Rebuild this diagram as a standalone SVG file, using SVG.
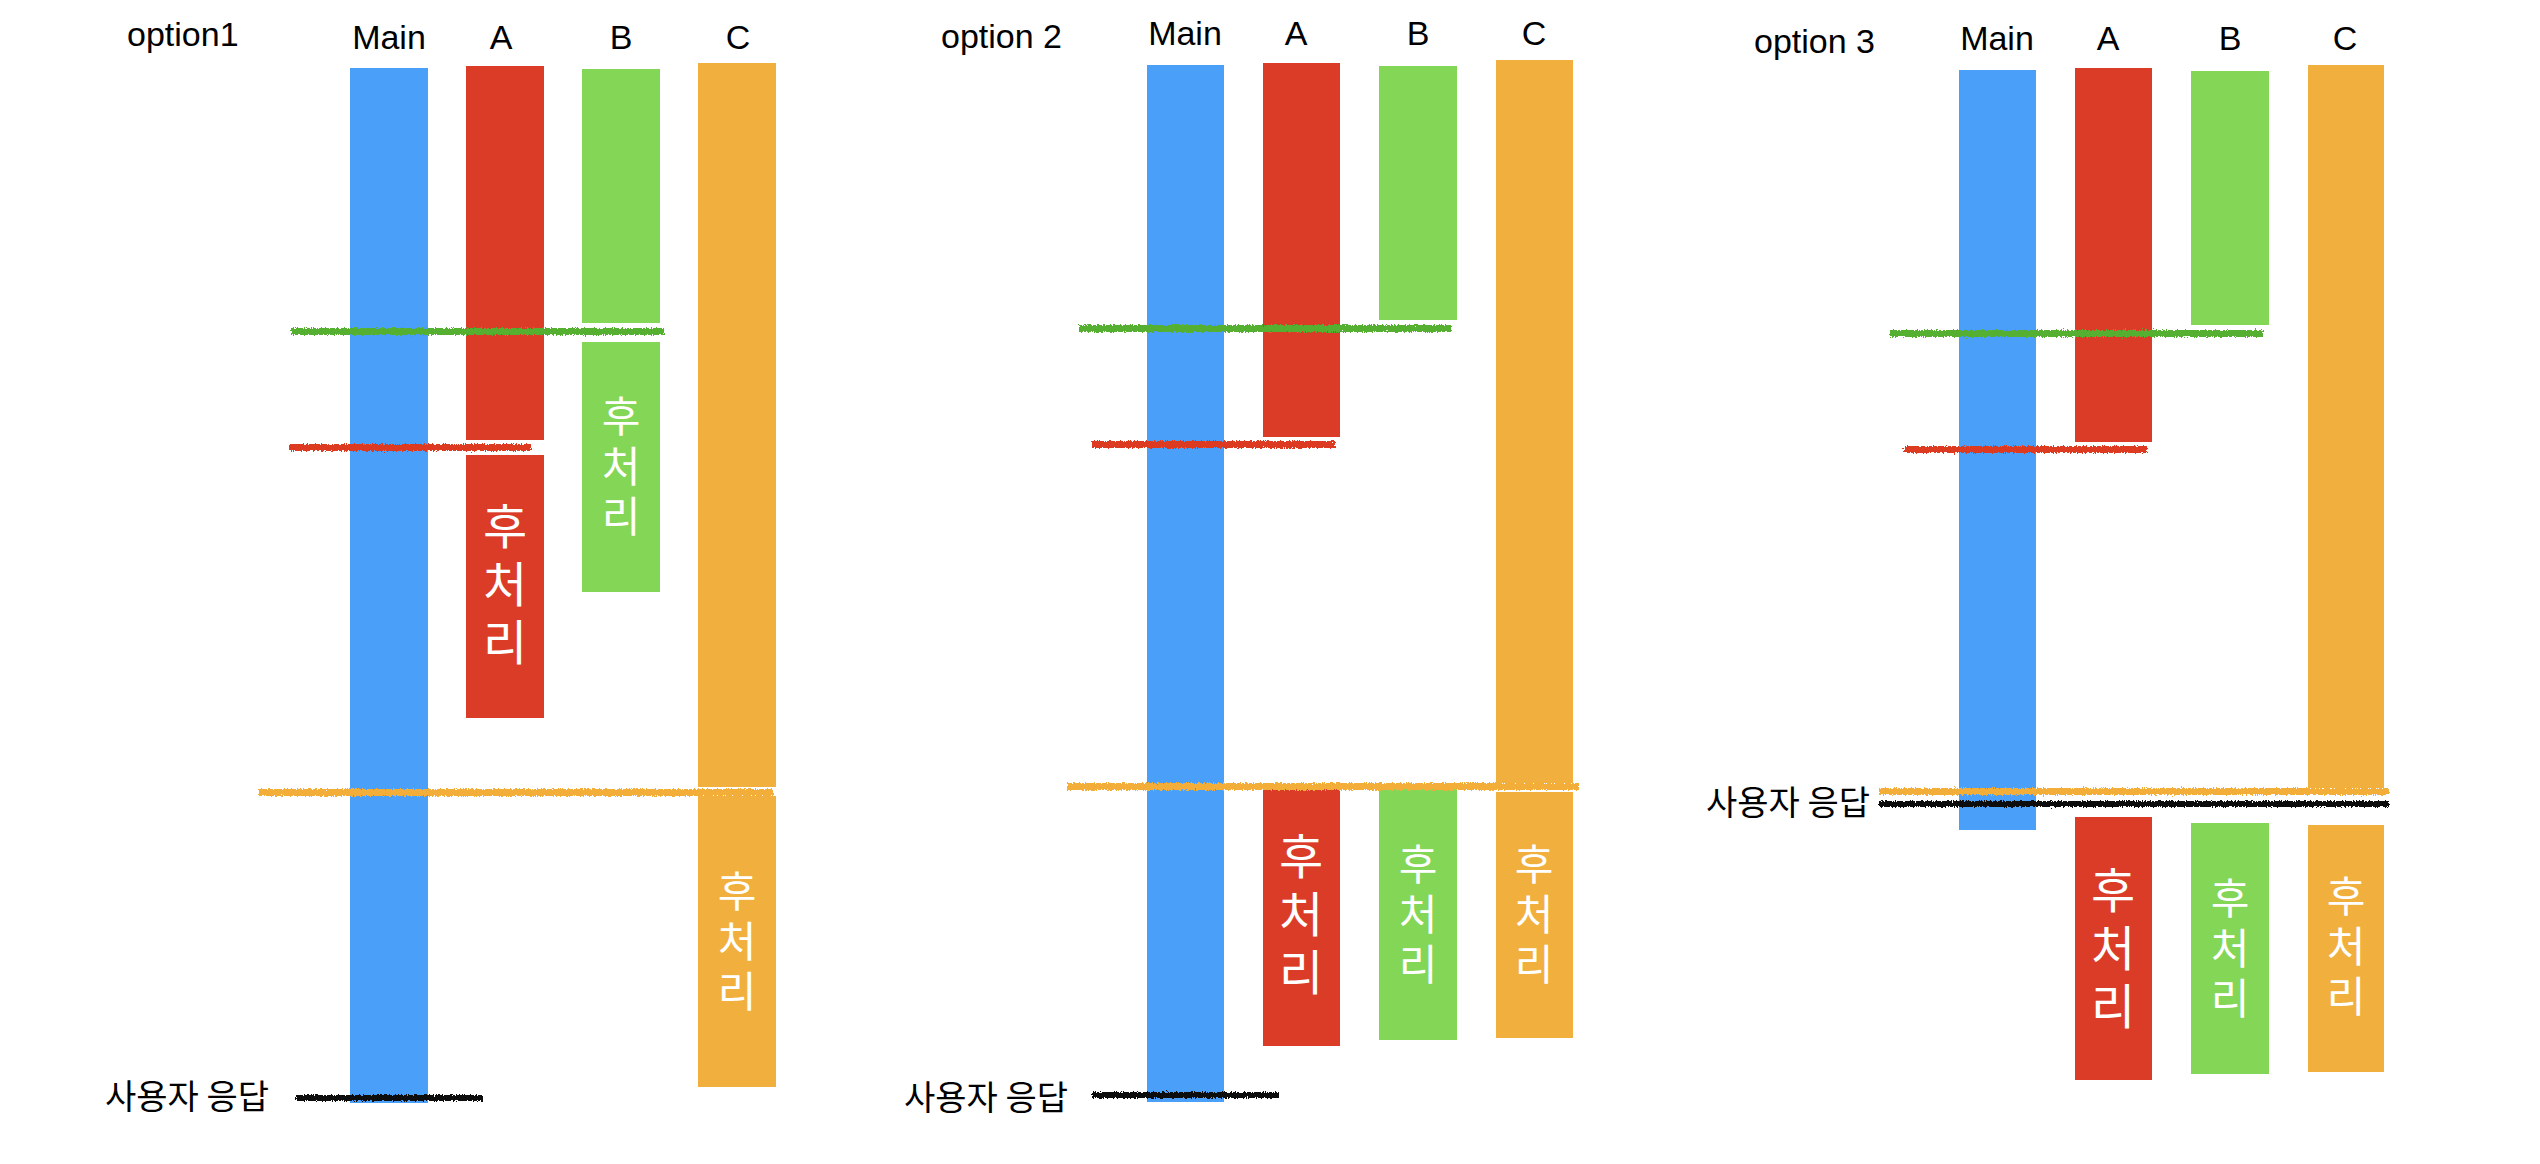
<svg xmlns="http://www.w3.org/2000/svg" width="2540" height="1164" viewBox="0 0 2540 1164">
<style>
.lbl{font-family:"Liberation Sans","Noto Sans",Arial,sans-serif;font-size:34px;fill:#000}
.hd{font-family:"Liberation Sans","Noto Sans",Arial,sans-serif;font-size:34px;fill:#000;text-anchor:middle}
.kr{font-family:"Noto Sans CJK KR","Noto Sans",sans-serif;font-size:34px;fill:#000}
.pt{font-family:"Noto Sans CJK KR","Noto Sans",sans-serif;fill:#fff;text-anchor:middle;writing-mode:vertical-rl;text-orientation:upright}
.big{font-size:48px;letter-spacing:10px}
.sm{font-size:42px;letter-spacing:8px}
.blue{fill:#4A9FF8}
.red{fill:#DA3C27}
.green{fill:#84D656}
.orange{fill:#F1B03E}
.ln{filter:url(#crayon)}
.lgreen{fill:#55B032}
.lred{fill:#DC3A24}
.lorange{fill:#F2AE38}
.lblack{fill:#111}
</style>
<defs>
<filter id="crayon" filterUnits="userSpaceOnUse" x="0" y="0" width="2540" height="1164">
<feTurbulence type="fractalNoise" baseFrequency="0.9 0.5" numOctaves="2" seed="4" result="n"/>
<feDisplacementMap in="SourceGraphic" in2="n" scale="5" xChannelSelector="R" yChannelSelector="G"/>
</filter>
</defs>
<rect width="2540" height="1164" fill="#fff"/>

<!-- option 1 -->
<g id="option1">
<text class="lbl" x="127" y="46">option1</text>
<g id="o1-main"><text class="hd" x="389" y="49">Main</text><rect class="blue" x="350" y="68" width="78" height="1035"/></g>
<g id="o1-a"><text class="hd" x="501" y="49">A</text><rect class="red" x="466" y="66" width="78" height="374"/></g>
<g id="o1-a-post"><rect class="red" x="466" y="455" width="78" height="263"/><text class="pt big" x="505" y="589">후처리</text></g>
<g id="o1-b"><text class="hd" x="621" y="49">B</text><rect class="green" x="582" y="69" width="78" height="254"/></g>
<g id="o1-b-post"><rect class="green" x="582" y="342" width="78" height="250"/><text class="pt sm" x="621" y="470">후처리</text></g>
<g id="o1-c"><text class="hd" x="738" y="49">C</text><rect class="orange" x="698" y="63" width="78" height="724"/></g>
<g id="o1-c-post"><rect class="orange" x="698" y="796" width="78" height="291"/><text class="pt sm" x="737" y="945">후처리</text></g>
<text class="kr" x="105" y="1109">사용자 응답</text>
</g>

<!-- option 2 -->
<g id="option2">
<text class="lbl" x="941" y="48">option 2</text>
<g id="o2-main"><text class="hd" x="1185" y="45">Main</text><rect class="blue" x="1147" y="65" width="77" height="1037"/></g>
<g id="o2-a"><text class="hd" x="1296" y="45">A</text><rect class="red" x="1263" y="63" width="77" height="374"/></g>
<g id="o2-a-post"><rect class="red" x="1263" y="788" width="77" height="258"/><text class="pt big" x="1301" y="919">후처리</text></g>
<g id="o2-b"><text class="hd" x="1418" y="45">B</text><rect class="green" x="1379" y="66" width="78" height="254"/></g>
<g id="o2-b-post"><rect class="green" x="1379" y="789" width="78" height="251"/><text class="pt sm" x="1418" y="918">후처리</text></g>
<g id="o2-c"><text class="hd" x="1534" y="45">C</text><rect class="orange" x="1496" y="60" width="77" height="723"/></g>
<g id="o2-c-post"><rect class="orange" x="1496" y="792" width="77" height="246"/><text class="pt sm" x="1534" y="918">후처리</text></g>
<text class="kr" x="904" y="1110">사용자 응답</text>
</g>

<!-- option 3 -->
<g id="option3">
<text class="lbl" x="1754" y="53">option 3</text>
<g id="o3-main"><text class="hd" x="1997" y="50">Main</text><rect class="blue" x="1959" y="70" width="77" height="760"/></g>
<g id="o3-a"><text class="hd" x="2108" y="50">A</text><rect class="red" x="2075" y="68" width="77" height="374"/></g>
<g id="o3-a-post"><rect class="red" x="2075" y="817" width="77" height="263"/><text class="pt big" x="2113" y="953">후처리</text></g>
<g id="o3-b"><text class="hd" x="2230" y="50">B</text><rect class="green" x="2191" y="71" width="78" height="254"/></g>
<g id="o3-b-post"><rect class="green" x="2191" y="823" width="78" height="251"/><text class="pt sm" x="2230" y="952">후처리</text></g>
<g id="o3-c"><text class="hd" x="2345" y="50">C</text><rect class="orange" x="2308" y="65" width="76" height="723"/></g>
<g id="o3-c-post"><rect class="orange" x="2308" y="825" width="76" height="247"/><text class="pt sm" x="2346" y="950">후처리</text></g>
<text class="kr" x="1706" y="815">사용자 응답</text>
</g>

<!-- timing lines -->
<g id="connectors" class="ln">
<rect class="lgreen" x="291" y="328" width="373" height="7"/>
<rect class="lred" x="289" y="444" width="242" height="7"/>
<rect class="lorange" x="259" y="789" width="514" height="7"/>
<rect class="lblack" x="296" y="1095" width="187" height="6"/>

<rect class="lgreen" x="1079" y="325" width="372" height="7"/>
<rect class="lred" x="1092" y="441" width="243" height="7"/>
<rect class="lorange" x="1067" y="783" width="512" height="7"/>
<rect class="lblack" x="1092" y="1092" width="187" height="6"/>

<rect class="lgreen" x="1890" y="330" width="373" height="7"/>
<rect class="lred" x="1904" y="446" width="243" height="7"/>
<rect class="lorange" x="1879" y="788" width="510" height="7"/>
<rect class="lblack" x="1879" y="801" width="510" height="6"/>
</g>
</svg>
